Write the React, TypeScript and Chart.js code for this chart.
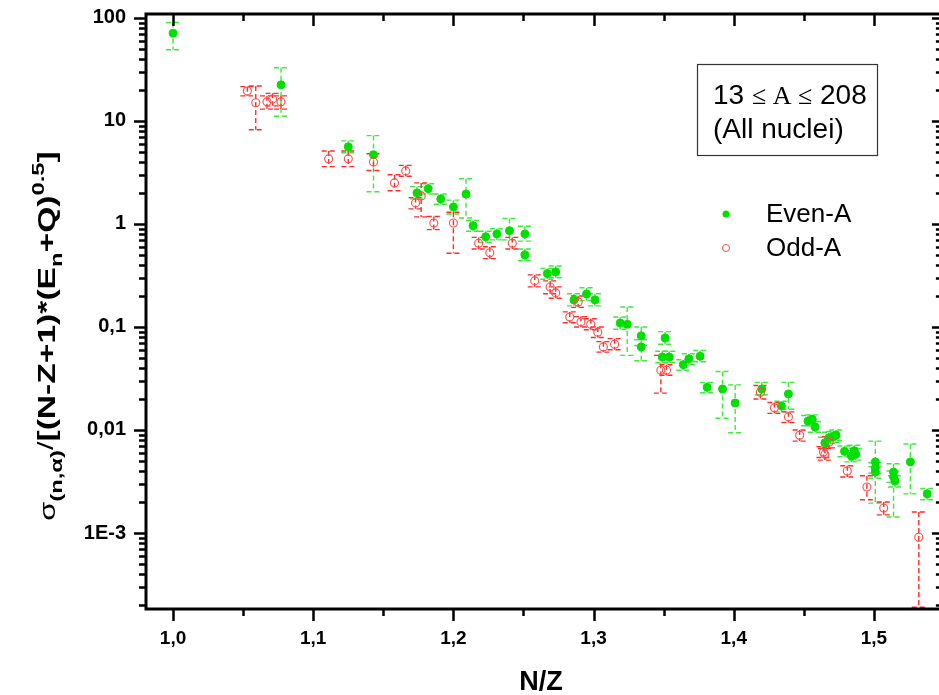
import React, { useEffect, useRef } from 'react';
import { Chart, registerables } from 'chart.js';

Chart.register(...registerables);

// ---------- data ----------
const evenX = [1.000, 1.077, 1.125, 1.143, 1.174, 1.182, 1.191, 1.200, 1.209, 1.214, 1.223, 1.231, 1.240, 1.251, 1.251, 1.267, 1.273, 1.286, 1.295, 1.301, 1.319, 1.324, 1.334, 1.334, 1.351, 1.349, 1.354, 1.364, 1.368, 1.376, 1.381, 1.392, 1.401, 1.420, 1.439, 1.434, 1.453, 1.456, 1.458, 1.468, 1.471, 1.473, 1.465, 1.479, 1.486, 1.487, 1.484, 1.501, 1.501, 1.501, 1.514, 1.514, 1.515, 1.526, 1.538];
const evenY = [71, 22.4, 5.6, 4.7, 2.0, 2.2, 1.75, 1.46, 1.95, 0.96, 0.75, 0.80, 0.86, 0.80, 0.50, 0.33, 0.342, 0.183, 0.209, 0.183, 0.109, 0.106, 0.082, 0.064, 0.078, 0.051, 0.051, 0.043, 0.049, 0.052, 0.026, 0.025, 0.0183, 0.025, 0.0224, 0.0171, 0.0122, 0.0127, 0.0107, 0.0084, 0.0086, 0.0089, 0.0075, 0.0062, 0.0063, 0.0058, 0.0056, 0.0049, 0.0043, 0.0039, 0.0039, 0.0035, 0.0032, 0.0049, 0.0024];
const evenLo = [49, 11.1, 4.9, 2.05, 1.75, 1.95, 1.55, 1.25, 1.14, 0.85, 0.66, 0.70, 0.70, 0.68, 0.44, 0.29, 0.30, 0.16, 0.18, 0.16, 0.095, 0.053, 0.066, 0.047, 0.068, 0.045, 0.045, 0.038, 0.043, 0.046, 0.023, 0.013, 0.0094, 0.022, 0.0159, 0.015, 0.011, 0.011, 0.0095, 0.0074, 0.0076, 0.0079, 0.0066, 0.0055, 0.0056, 0.0051, 0.0049, 0.00195, 0.0038, 0.0034, 0.00143, 0.0031, 0.0028, 0.0024, 0.0021];
const evenHi = [90, 32.8, 6.4, 7.2, 2.3, 2.45, 1.95, 1.7, 2.74, 1.08, 0.85, 0.90, 1.13, 0.95, 0.57, 0.37, 0.39, 0.21, 0.24, 0.21, 0.125, 0.156, 0.10, 0.075, 0.09, 0.058, 0.058, 0.048, 0.055, 0.059, 0.029, 0.037, 0.0274, 0.029, 0.029, 0.019, 0.0138, 0.014, 0.012, 0.0095, 0.0097, 0.010, 0.0085, 0.0070, 0.0071, 0.0066, 0.0063, 0.0078, 0.0048, 0.0044, 0.0047, 0.0040, 0.0036, 0.0073, 0.0027];

const oddX = [1.053, 1.059, 1.067, 1.071, 1.077, 1.111, 1.125, 1.143, 1.158, 1.166, 1.177, 1.173, 1.186, 1.200, 1.218, 1.226, 1.242, 1.258, 1.269, 1.273, 1.289, 1.283, 1.291, 1.298, 1.303, 1.307, 1.315, 1.348, 1.352, 1.419, 1.429, 1.439, 1.447, 1.468, 1.464, 1.465, 1.481, 1.495, 1.507, 1.532];
const oddY = [19.5, 15, 15.3, 16.3, 15.3, 4.28, 4.28, 4.0, 2.5, 3.27, 1.87, 1.6, 1.02, 1.02, 0.65, 0.525, 0.65, 0.28, 0.244, 0.214, 0.175, 0.125, 0.112, 0.106, 0.089, 0.064, 0.068, 0.038, 0.038, 0.0232, 0.0164, 0.0134, 0.0089, 0.0076, 0.0061, 0.0058, 0.0040, 0.0028, 0.00175, 0.00091];
const oddLo = [17.5, 8.2, 13, 14, 13, 3.6, 3.6, 3.3, 2.1, 2.9, 1.17, 1.4, 0.88, 0.52, 0.57, 0.46, 0.57, 0.245, 0.21, 0.19, 0.155, 0.11, 0.10, 0.094, 0.079, 0.057, 0.060, 0.0228, 0.034, 0.020, 0.0145, 0.0118, 0.0078, 0.0067, 0.0054, 0.0051, 0.0035, 0.0021, 0.0015, 0.00019];
const oddHi = [21.5, 21.8, 17.5, 18.5, 17.5, 5.1, 5.1, 4.8, 3.0, 3.7, 2.5, 1.8, 1.18, 1.3, 0.74, 0.60, 0.74, 0.32, 0.28, 0.245, 0.20, 0.14, 0.126, 0.12, 0.10, 0.072, 0.077, 0.053, 0.043, 0.027, 0.0185, 0.015, 0.010, 0.0086, 0.0069, 0.0066, 0.0045, 0.0036, 0.0020, 0.0016];

const xTickValues = [1.0, 1.1, 1.2, 1.3, 1.4, 1.5];
const xTickLabels = ['1,0', '1,1', '1,2', '1,3', '1,4', '1,5'];
const yTickValues = [100, 10, 1, 0.1, 0.01, 0.001];
const yTickLabels = ['100', '10', '1', '0,1', '0,01', '1E-3'];

const X_MIN = 0.9807;
const X_MAX = 1.5485;
const Y_MIN = 1.83e-4;
const Y_MAX = 109;

const GREEN = '#00e000';
const GREEN_BAR = '#3bea3b';
const RED = '#ff4a4a';
const RED_BAR = '#ff2a2a';
const SANS = '"Liberation Sans", Arial, sans-serif';
const SERIF = '"Liberation Serif", "Times New Roman", serif';

const errorBarPlugin = {
  id: 'errorBars',
  beforeDatasetsDraw(chart: any) {
    const { ctx, chartArea } = chart;
    const xs = chart.scales.x;
    const ys = chart.scales.y;
    const sets = [
      { x: evenX, lo: evenLo, hi: evenHi, color: GREEN_BAR },
      { x: oddX, lo: oddLo, hi: oddHi, color: RED_BAR },
    ];
    ctx.save();
    ctx.beginPath();
    ctx.rect(chartArea.left, chartArea.top, chartArea.right - chartArea.left, chartArea.bottom - chartArea.top);
    ctx.clip();
    ctx.lineWidth = 1.4;
    ctx.setLineDash([5, 3]);
    for (const s of sets) {
      ctx.strokeStyle = s.color;
      for (let i = 0; i < s.x.length; i++) {
        const px = xs.getPixelForValue(s.x[i]);
        const pt = ys.getPixelForValue(s.hi[i]);
        const pb = ys.getPixelForValue(s.lo[i]);
        ctx.beginPath();
        ctx.moveTo(px, pt);
        ctx.lineTo(px, pb);
        ctx.moveTo(px - 7, pt);
        ctx.lineTo(px + 7, pt);
        ctx.moveTo(px - 7, pb);
        ctx.lineTo(px + 7, pb);
        ctx.stroke();
      }
    }
    ctx.restore();
  },
};

const framePlugin = {
  id: 'frame',
  afterDraw(chart: any) {
    const { ctx, chartArea } = chart;
    const { left, right, top, bottom } = chartArea;
    const xs = chart.scales.x;
    const ys = chart.scales.y;
    ctx.save();
    ctx.strokeStyle = '#000';
    ctx.lineWidth = 3;
    ctx.strokeRect(left, top, right - left, bottom - top);
    ctx.lineWidth = 2.5;
    ctx.beginPath();
    for (let k = 20; k <= 30; k++) {
      const v = k * 0.05;
      if (v < X_MIN || v > X_MAX) continue;
      const px = Math.round(xs.getPixelForValue(v)) + 0.5;
      const major = k % 2 === 0;
      const lb = major ? 12 : 7;
      ctx.moveTo(px, bottom);
      ctx.lineTo(px, bottom + lb);
      ctx.moveTo(px, top);
      ctx.lineTo(px, top + lb);
    }
    for (let e = -4; e <= 2; e++) {
      for (let m = 1; m <= 9; m++) {
        const v = m * Math.pow(10, e);
        if (v < Y_MIN || v > Y_MAX * 1.0001) continue;
        const py = Math.round(ys.getPixelForValue(v)) + 0.5;
        const major = m === 1;
        ctx.moveTo(left, py);
        ctx.lineTo(left - (major ? 12 : 7), py);
        ctx.moveTo(right, py);
        ctx.lineTo(right - (major ? 10 : 6), py);
      }
    }
    ctx.stroke();

    // x title
    ctx.fillStyle = '#000';
    ctx.font = `bold 27px ${SANS}`;
    ctx.textAlign = 'center';
    ctx.textBaseline = 'alphabetic';
    ctx.fillText('N/Z', 541, 690);

    // y title (rotated, with sub/superscripts)
    const segs = [
      { t: 'σ', f: `22px ${SANS}`, o: 0 },
      { t: '(n,α)', f: `bold 17px ${SANS}`, o: 7 },
      { t: '/', f: `22px ${SANS}`, o: -2 },
      { t: '[(N-Z+1)*(E', f: `bold 24px ${SANS}`, o: 0 },
      { t: 'n', f: `bold 17px ${SANS}`, o: 7 },
      { t: '+Q)', f: `bold 24px ${SANS}`, o: 0 },
      { t: '0.5', f: `bold 17px ${SANS}`, o: -11 },
      { t: ']', f: `bold 24px ${SANS}`, o: 0 },
    ];
    const stretch = 1.4;
    let total = 0;
    for (const s of segs) {
      ctx.font = s.f;
      total += ctx.measureText(s.t).width;
    }
    ctx.save();
    ctx.translate(55, 336);
    ctx.rotate(-Math.PI / 2);
    ctx.scale(stretch, 1);
    ctx.textAlign = 'left';
    let cx = -total / 2;
    for (const s of segs) {
      ctx.font = s.f;
      ctx.fillText(s.t, cx, s.o);
      cx += ctx.measureText(s.t).width;
    }
    ctx.restore();

    // annotation box
    ctx.lineWidth = 1.2;
    ctx.strokeStyle = '#333';
    ctx.strokeRect(697.5, 64.5, 180, 91);
    const line1 = [
      { t: '13 ', f: `28px ${SANS}` },
      { t: '≤', f: `26px ${SERIF}` },
      { t: ' A ', f: `26px ${SERIF}` },
      { t: '≤', f: `26px ${SERIF}` },
      { t: ' 208', f: `28px ${SANS}` },
    ];
    let lx = 713;
    ctx.textAlign = 'left';
    for (const s of line1) {
      ctx.font = s.f;
      ctx.fillText(s.t, lx, 104);
      lx += ctx.measureText(s.t).width;
    }
    ctx.font = `28px ${SANS}`;
    ctx.fillText('(All nuclei)', 713, 138);

    // legend
    ctx.beginPath();
    ctx.fillStyle = GREEN;
    ctx.arc(726, 214, 3.5, 0, Math.PI * 2);
    ctx.fill();
    ctx.beginPath();
    ctx.strokeStyle = RED;
    ctx.lineWidth = 1;
    ctx.arc(726, 248, 3.5, 0, Math.PI * 2);
    ctx.stroke();
    ctx.fillStyle = '#000';
    ctx.font = `26px ${SANS}`;
    ctx.textBaseline = 'middle';
    ctx.fillText('Even-A', 766, 215);
    ctx.fillText('Odd-A', 766, 249);
    ctx.restore();
  },
};

export default function App() {
  const ref = useRef<HTMLCanvasElement | null>(null);
  useEffect(() => {
    if (!ref.current) return;
    const chart = new Chart(ref.current, {
      type: 'scatter',
      data: {
        datasets: [
          {
            label: 'Odd-A',
            data: oddX.map((x, i) => ({ x, y: oddY[i] })),
            backgroundColor: 'rgba(255,255,255,0)',
            borderColor: RED,
            borderWidth: 1.1,
            pointRadius: 4,
          },
          {
            label: 'Even-A',
            data: evenX.map((x, i) => ({ x, y: evenY[i] })),
            backgroundColor: GREEN,
            borderColor: GREEN,
            borderWidth: 1,
            pointRadius: 4,
          },
        ],
      },
      options: {
        responsive: false,
        animation: false,
        events: [],
        layout: { padding: { top: 14, right: 5, left: 0, bottom: 0 } },
        plugins: { legend: { display: false }, tooltip: { enabled: false } },
        scales: {
          x: {
            type: 'linear',
            min: X_MIN,
            max: X_MAX,
            grid: { display: false },
            border: { display: false },
            ticks: {
              color: '#000',
              font: { family: SANS, size: 19, weight: 'bold' },
              padding: 10,
              maxRotation: 0,
              autoSkip: false,
              callback: (v: any) => {
                const i = xTickValues.findIndex((t) => Math.abs(t - v) < 1e-6);
                return i >= 0 ? xTickLabels[i] : '';
              },
            },
            afterBuildTicks: (s: any) => {
              s.ticks = xTickValues.map((v) => ({ value: v }));
            },
            afterFit: (s: any) => {
              s.height = 86;
              s.paddingLeft = 0;
              s.paddingRight = 0;
            },
          },
          y: {
            type: 'logarithmic',
            min: Y_MIN,
            max: Y_MAX,
            grid: { display: false },
            border: { display: false },
            ticks: {
              color: '#000',
              font: { family: SANS, size: 20, weight: 'bold' },
              padding: 12,
              autoSkip: false,
              callback: (v: any) => {
                const i = yTickValues.findIndex((t) => Math.abs(Math.log10(t) - Math.log10(v)) < 1e-6);
                return i >= 0 ? yTickLabels[i] : '';
              },
            },
            afterBuildTicks: (s: any) => {
              s.ticks = yTickValues.map((v) => ({ value: v }));
            },
            afterFit: (s: any) => {
              s.width = 146;
              s.paddingTop = 0;
              s.paddingBottom = 0;
            },
          },
        },
      },
      plugins: [errorBarPlugin, framePlugin],
    });
    return () => chart.destroy();
  }, []);

  return (
    <div style={{ position: 'fixed', left: 0, top: 0, width: 939, height: 695, overflow: 'hidden', background: '#fff' }}>
      <canvas ref={ref} width={947} height={695} style={{ display: 'block' }} />
    </div>
  );
}
